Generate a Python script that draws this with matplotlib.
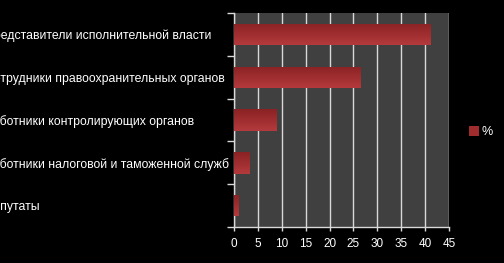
import numpy as np
import matplotlib.pyplot as plt
from matplotlib.colors import LinearSegmentedColormap

categories = [
    'Представители исполнительной власти',
    'Сотрудники правоохранительных органов',
    'Работники контролирующих органов',
    'Работники налоговой и таможенной служб',
    'Депутаты',
]
values = [41.1, 26.5, 8.9, 3.3, 0.9]
series_name = '%'
xticks = list(range(0, 50, 5))

plt.rcParams['font.family'] = ['Liberation Sans', 'DejaVu Sans']

fig = plt.figure(figsize=(5.04, 2.63), dpi=100, facecolor='black')
ax = fig.add_axes([234 / 504, 36 / 263, 215 / 504, 214 / 263])
ax.set_facecolor('#404040')

y = np.arange(len(categories))
bars = ax.barh(y, values, height=0.5, color='#a02c2e', label=series_name, zorder=3)

# vertical red gradient inside every bar
grad = LinearSegmentedColormap.from_list('bar', ['#8a2224', '#b43a3c'])
for b in bars:
    x0, y0 = b.get_x(), b.get_y()
    w, h = b.get_width(), b.get_height()
    im = ax.imshow(np.linspace(0, 1, 50).reshape(-1, 1), cmap=grad, aspect='auto',
                   extent=[x0, x0 + w, y0 + h, y0], zorder=4, origin='upper')
    im.set_clip_path(b)

ax.set_xlim(0, 45)
ax.set_ylim(len(categories) - 0.5, -0.5)
ax.set_xticks(xticks)
ax.set_xticklabels([str(t) for t in xticks], color='white', fontsize=8.5)
ax.tick_params(axis='x', colors='#d9d9d9', length=3, width=1, labelcolor='white', pad=5)

# labels are left aligned and run past the left edge of the figure
ax.set_yticks(y)
ax.set_yticklabels(categories, color='white', fontsize=8.8, ha='left')
ax.tick_params(axis='y', length=0, pad=179)
ax.set_yticks(np.arange(-0.5, len(categories), 1), minor=True)
ax.tick_params(axis='y', which='minor', length=5, width=1, colors='#d9d9d9')

ax.grid(axis='x', color='#d9d9d9', linewidth=1, zorder=1)
ax.set_axisbelow(True)
for side in ['top', 'right']:
    ax.spines[side].set_visible(False)
for side in ['left', 'bottom']:
    ax.spines[side].set_color('#d9d9d9')
    ax.spines[side].set_linewidth(1)

leg = fig.legend(handles=[bars], labels=[series_name], loc='center left',
                 bbox_to_anchor=(458 / 504, 1 - 132 / 263), frameon=False,
                 fontsize=9, labelcolor='white', handlelength=0.75, handleheight=0.8,
                 handletextpad=0.25)

fig.savefig('out.png', dpi=100, facecolor='black')
